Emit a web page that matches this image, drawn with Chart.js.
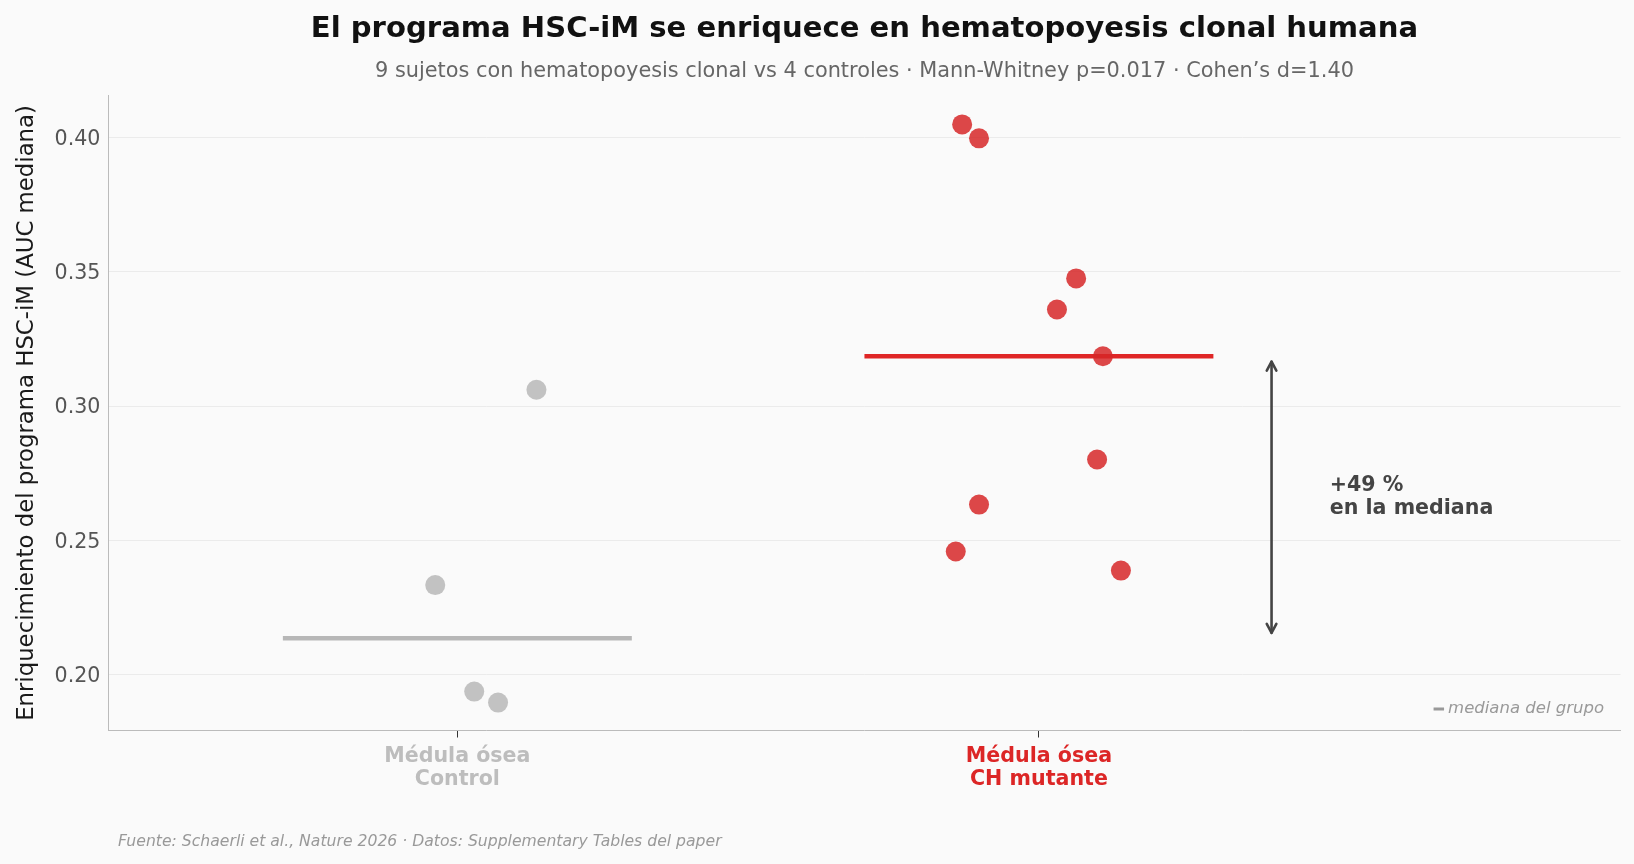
<!DOCTYPE html>
<html>
<head>
<meta charset="utf-8">
<script src="https://cdn.jsdelivr.net/npm/chart.js@4.4.1/dist/chart.umd.min.js"></script>
<style>
  html, body { margin: 0; padding: 0; background: #fafafa; }
  canvas { display: block; }
</style>
</head>
<body>
<canvas id="chart" width="1634" height="864"></canvas>
<script>
// ---------------- data ----------------
const categoryLabels = [['Médula ósea', 'Control'], ['Médula ósea', 'CH mutante']];
const categoryPositions = [0, 1];
const categoryColors = ['#bdbdbd', '#dc2626'];

const controlValues = [0.3061, 0.2333, 0.1936, 0.1895];
const controlJitter = [0.136, -0.038, 0.029, 0.070];

const chValues = [0.4050, 0.3998, 0.3476, 0.3360, 0.3186, 0.2801, 0.2633, 0.2458, 0.2387];
const chJitter = [-0.132, -0.103, 0.064, 0.031, 0.110, 0.100, -0.103, -0.143, 0.141];

const yTickValues = [0.20, 0.25, 0.30, 0.35, 0.40];

const titleText = 'El programa HSC-iM se enriquece en hematopoyesis clonal humana';
const subtitleText = '9 sujetos con hematopoyesis clonal vs 4 controles · Mann-Whitney p=0.017 · Cohen’s d=1.40';
const yAxisTitle = 'Enriquecimiento del programa HSC-iM (AUC mediana)';
const footerText = 'Fuente: Schaerli et al., Nature 2026 · Datos: Supplementary Tables del paper';
const legendNote = 'mediana del grupo';
const annotationSuffix = 'en la mediana';

// ---------------- helpers ----------------
function median(arr) {
  const s = [...arr].sort((a, b) => a - b);
  const n = s.length;
  return n % 2 ? s[(n - 1) / 2] : (s[n / 2 - 1] + s[n / 2]) / 2;
}
const medControl = median(controlValues);
const medCH = median(chValues);
const pct = Math.round((medCH / medControl - 1) * 100);

const halfWidth = 0.3;
const arrowX = 1.4;
const annotX = 1.5;

const FONT = "'DejaVu Sans', 'Noto Sans', sans-serif";

const controlPoints = controlValues.map((v, i) => ({ x: categoryPositions[0] + controlJitter[i], y: v }));
const chPoints = chValues.map((v, i) => ({ x: categoryPositions[1] + chJitter[i], y: v }));

// ---------------- plugins ----------------
const extras = {
  id: 'extras',
  afterDatasetsDraw(chart) {
    const { ctx, chartArea, scales: { x, y } } = chart;
    ctx.save();
    // double-headed arrow
    const ax = x.getPixelForValue(arrowX);
    const yTop = y.getPixelForValue(medCH) + 5.5;
    const yBot = y.getPixelForValue(medControl) - 5.5;
    ctx.strokeStyle = '#444444';
    ctx.lineWidth = 2.6;
    ctx.lineCap = 'round';
    ctx.lineJoin = 'round';
    ctx.beginPath(); ctx.moveTo(ax, yTop); ctx.lineTo(ax, yBot); ctx.stroke();
    const hl = 9, hw = 4.8;
    ctx.beginPath(); ctx.moveTo(ax - hw, yTop + hl); ctx.lineTo(ax, yTop); ctx.lineTo(ax + hw, yTop + hl); ctx.stroke();
    ctx.beginPath(); ctx.moveTo(ax - hw, yBot - hl); ctx.lineTo(ax, yBot); ctx.lineTo(ax + hw, yBot - hl); ctx.stroke();

    // annotation text
    const tx = x.getPixelForValue(annotX);
    const ty = y.getPixelForValue((medCH + medControl) / 2);
    ctx.fillStyle = '#444444';
    ctx.font = `bold 20.6px ${FONT}`;
    ctx.textAlign = 'left';
    ctx.textBaseline = 'middle';
    ctx.fillText(`+${pct} %`, tx, ty - 11.2);
    ctx.fillText(annotationSuffix, tx, ty + 11.8);

    // legend note (bottom right inside axes)
    ctx.font = `italic 16.5px ${FONT}`;
    ctx.fillStyle = '#999999';
    ctx.textAlign = 'right';
    const nx = chartArea.right - 16.5;
    const ny = chartArea.bottom - 21.5;
    ctx.fillText(legendNote, nx, ny);
    const w = ctx.measureText(legendNote).width;
    ctx.strokeStyle = '#999999';
    ctx.lineWidth = 3;
    ctx.lineCap = 'butt';
    ctx.beginPath();
    ctx.moveTo(nx - w - 14.5, ny); ctx.lineTo(nx - w - 4, ny);
    ctx.stroke();
    ctx.restore();
  },
  afterDraw(chart) {
    const { ctx } = chart;
    ctx.save();
    ctx.font = `italic 15.65px ${FONT}`;
    ctx.fillStyle = '#999999';
    ctx.textAlign = 'left';
    ctx.textBaseline = 'middle';
    ctx.fillText(footerText, 118, 842);
    ctx.restore();
  }
};

// ---------------- chart ----------------
new Chart(document.getElementById('chart'), {
  type: 'scatter',
  data: {
    datasets: [
      {
        label: 'CH mutante',
        data: chPoints,
        backgroundColor: 'rgba(214,39,40,0.85)',
        borderWidth: 0,
        pointRadius: 10,
        pointHoverRadius: 10
      },
      {
        label: 'Control',
        data: controlPoints,
        backgroundColor: 'rgba(170,170,170,0.7)',
        borderWidth: 0,
        pointRadius: 10,
        pointHoverRadius: 10
      },
      {
        label: 'Mediana CH',
        data: [{ x: categoryPositions[1] - halfWidth, y: medCH }, { x: categoryPositions[1] + halfWidth, y: medCH }],
        showLine: true,
        borderColor: '#df2626',
        borderWidth: 4.5,
        pointRadius: 0,
        borderCapStyle: 'butt'
      },
      {
        label: 'Mediana Control',
        data: [{ x: categoryPositions[0] - halfWidth, y: medControl }, { x: categoryPositions[0] + halfWidth, y: medControl }],
        showLine: true,
        borderColor: '#b7b7b7',
        borderWidth: 4.5,
        pointRadius: 0,
        borderCapStyle: 'butt'
      }
    ]
  },
  options: {
    responsive: false,
    animation: false,
    devicePixelRatio: 1,
    layout: { padding: { left: 0, right: 13.5, top: 0, bottom: 0 } },
    plugins: {
      legend: { display: false },
      tooltip: { enabled: false },
      title: {
        display: true,
        text: titleText,
        fullSize: false,
        color: '#111111',
        font: { family: FONT, size: 29.1, weight: 'bold', lineHeight: 1.2 },
        padding: { top: 11.6, bottom: 0 }
      },
      subtitle: {
        display: true,
        text: subtitleText,
        fullSize: false,
        color: '#666666',
        font: { family: FONT, size: 20.85, lineHeight: 1.2 },
        padding: { top: 12.6, bottom: 11.3 }
      }
    },
    scales: {
      x: {
        type: 'linear',
        min: -0.6,
        max: 2.0,
        afterBuildTicks(scale) { scale.ticks = categoryPositions.map(v => ({ value: v })); },
        afterFit(scale) { scale.height = 133.5; },
        ticks: {
          callback: (v, i) => categoryLabels[i],
          color: (ctx) => categoryColors[ctx.index],
          font: { family: FONT, size: 20.6, weight: 'bold', lineHeight: 1.1 },
          padding: 8,
          maxRotation: 0,
          autoSkip: false
        },
        grid: { display: true, drawOnChartArea: false, drawTicks: true, tickLength: 7, tickColor: '#333333', tickWidth: 1 },
        border: { display: true, color: '#bbbbbb', width: 1 }
      },
      y: {
        type: 'linear',
        min: 0.1791,
        max: 0.4158,
        afterBuildTicks(scale) { scale.ticks = yTickValues.map(v => ({ value: v })); },
        afterFit(scale) { scale.width = 108.4; },
        ticks: {
          callback: (v) => v.toFixed(2),
          color: '#555555',
          font: { family: FONT, size: 20.6 },
          padding: 8,
          labelOffset: 2
        },
        grid: { display: true, color: '#ebebeb', lineWidth: 1, drawTicks: false },
        border: { display: true, color: '#bbbbbb', width: 1 },
        title: {
          display: true,
          text: yAxisTitle,
          color: '#1a1a1a',
          font: { family: FONT, size: 22.8, lineHeight: 1.2 },
          padding: { top: 13.5, bottom: 0 }
        }
      }
    }
  },
  plugins: [extras]
});
</script>
</body>
</html>
